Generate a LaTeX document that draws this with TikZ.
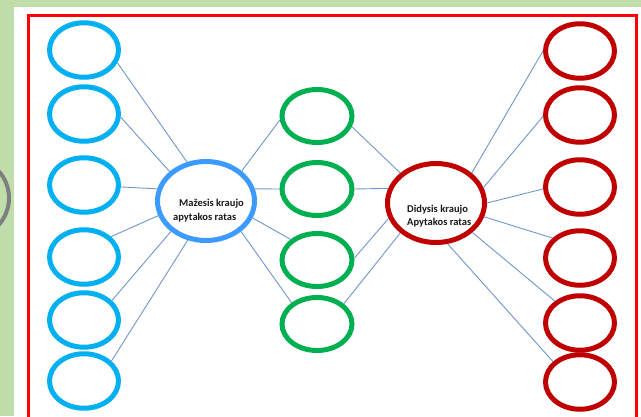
\documentclass[tikz,border=0pt]{standalone}
\usepackage{fontspec}
\setmainfont{Carlito}
\usetikzlibrary{shapes.geometric}
\definecolor{bggreen}{RGB}{192,222,170}
\definecolor{cyanring}{HTML}{00B0F0}
\definecolor{bluering}{HTML}{3D9BFF}
\definecolor{greenring}{HTML}{00B050}
\definecolor{darkred}{HTML}{C00000}
\definecolor{linkcol}{HTML}{7096CC}
\definecolor{arcgray}{HTML}{7F7F7F}
\definecolor{txtcol}{HTML}{1A1A1A}
\tikzset{
  ring/.style={ellipse, draw, line width=5pt, minimum width=69pt, minimum height=54.5pt, inner sep=0pt},
  lring/.style={ring, draw=cyanring},
  rring/.style={ring, draw=darkred},
  gring/.style={ring, draw=greenring, minimum width=70pt, minimum height=53pt},
  bigring/.style={ellipse, draw, line width=5pt, minimum width=97pt, minimum height=79pt, inner sep=0pt},
  link/.style={draw=linkcol, line width=0.9pt},
  lbl/.style={font=\bfseries\fontsize{10.5}{14}\selectfont, text=txtcol, inner sep=0pt, align=left, anchor=west}
}
\begin{document}
\begin{tikzpicture}[x=1pt,y=-1pt]
\useasboundingbox (0,0) rectangle (641,416);
\clip (0,0) rectangle (641,416);
\fill[bggreen] (0,0) rectangle (641,416);
\fill[white] (14,7) rectangle (645,420);
\draw[arcgray, line width=4pt] (-31,198) circle[radius=40];
\draw[red, line width=3pt] (28,15) rectangle (636,430);
% left rings
\node[lring] (L1) at (84,50) {};
\node[lring] (L2) at (84,114) {};
\node[lring] (L3) at (84,185) {};
\node[lring] (L4) at (84,257) {};
\node[lring] (L5) at (84,320) {};
\node[lring] (L6) at (84,381) {};
% right rings
\node[rring] (R1) at (580,51) {};
\node[rring] (R2) at (580,115) {};
\node[rring] (R3) at (580,187) {};
\node[rring] (R4) at (580,258) {};
\node[rring] (R5) at (580,323) {};
\node[rring] (R6) at (580,382) {};
% green rings
\node[gring] (G1) at (317,116) {};
\node[gring] (G2) at (317,189) {};
\node[gring] (G3) at (317,260) {};
\node[gring] (G4) at (317,324) {};
% centres
\node[bigring, draw=bluering] (B) at (206,201) {};
\node[bigring, draw=darkred] (C) at (436,203) {};
\node[lbl] (tB) at (173,211) {\hspace*{6pt}Mažesis kraujo\\apytakos ratas};
\node[lbl, font=\bfseries\fontsize{10.5}{12.5}\selectfont] (tC) at (407,216) {Didysis kraujo\\Apytakos ratas};
% links left
\draw[link] (L1.-21) -- (B.116);
\draw[link] (L2.-5) -- (B.141);
\draw[link] (L3.-3) -- (B.166);
\draw[link] (L4.37) -- (B.197);
\draw[link] (L5.35) -- (B.221);
\draw[link] (L6.36) -- (B.245);
% blue to green
\draw[link] (B.40) -- (G1.186);
\draw[link] (B.14) -- (G2.180);
\draw[link] (B.-20) -- (G3.142);
\draw[link] (B.-41) -- (G4.140);
% green to red
\draw[link] (G1.-17) -- (C.140);
\draw[link] (G2.0) -- (C.163);
\draw[link] (G3.3) -- (C.198);
\draw[link] (G4.37) -- (C.220);
% red to right
\draw[link] (C.40) -- (R1.180);
\draw[link] (C.18) -- (R2.182);
\draw[link] (C.0) -- (R3.183);
\draw[link] (C.-16) -- (R4.144);
\draw[link] (C.-39) -- (R5.139);
\draw[link] (C.-74) -- (R6.143);
\end{tikzpicture}
\end{document}
